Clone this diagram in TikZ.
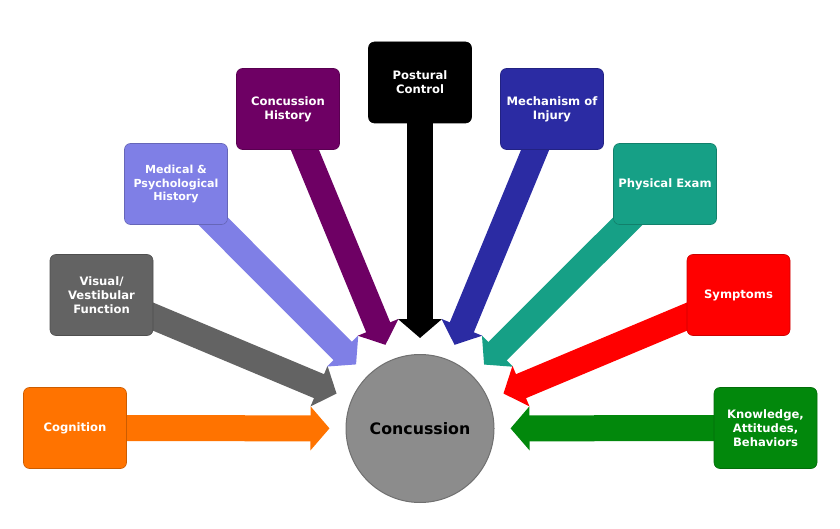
\documentclass[tikz,border=0pt]{standalone}
\usepackage{fontspec}
\setmainfont{DejaVu Sans}
\usetikzlibrary{arrows.meta,backgrounds}
\definecolor{cOrange}{HTML}{FF7300}
\definecolor{cGray}{HTML}{636363}
\definecolor{cLav}{HTML}{7F7FE6}
\definecolor{cPurple}{HTML}{6E0064}
\definecolor{cBlack}{HTML}{000000}
\definecolor{cBlue}{HTML}{2B2BA3}
\definecolor{cTeal}{HTML}{16A086}
\definecolor{cRed}{HTML}{FF0000}
\definecolor{cGreen}{HTML}{02880C}
\definecolor{cCirc}{HTML}{8C8C8C}
\tikzset{
  factor/.style={rectangle, rounded corners=6pt, minimum width=103pt, minimum height=81pt,
    inner sep=2pt, align=center, text=white, fill=#1, draw=#1!80!black, line width=0.6pt,
    font=\fontsize{11.6}{14}\selectfont\bfseries},
  centre/.style={circle, minimum size=148pt, inner sep=0pt, fill=cCirc, draw=cCirc!80!black,
    line width=1pt, font=\fontsize{15.8}{18}\selectfont\bfseries, text=black},
  feed/.style={draw=#1, line width=26pt, -{Triangle[width=43pt,length=19pt]}, shorten >=16pt}
}
\begin{document}
\begin{tikzpicture}[x=1pt,y=-1pt]
\useasboundingbox (0,0) rectangle (840,529);
\node[centre] (conc) at (420,428.5) {Concussion};
\node[factor=cOrange] (cog) at (75,428) {Cognition};
\node[factor=cGray] (vis) at (101.5,295) {Visual/\\Vestibular\\Function};
\node[factor=cLav, font=\fontsize{11.1}{13.6}\selectfont\bfseries] (med) at (176,184) {Medical \&\\Psychological\\History};
\node[factor=cPurple] (hist) at (288,109) {Concussion\\History};
\node[factor=cBlack, draw=black] (post) at (420,82.5) {Postural\\Control};
\node[factor=cBlue] (mech) at (552,109) {Mechanism of\\Injury};
\node[factor=cTeal] (phys) at (665,184) {Physical Exam};
\node[factor=cRed] (symp) at (738.5,295) {Symptoms};
\node[factor=cGreen] (know) at (765.5,428) {Knowledge,\\Attitudes,\\Behaviors};
\begin{pgfonlayer}{background}
\draw[feed=cOrange] (cog.center) -- (conc);
\draw[feed=cGray] (vis.center) -- (conc);
\draw[feed=cLav] (med.center) -- (conc);
\draw[feed=cPurple] (hist.center) -- (conc);
\draw[feed=cBlack] (post.center) -- (conc);
\draw[feed=cBlue] (mech.center) -- (conc);
\draw[feed=cTeal] (phys.center) -- (conc);
\draw[feed=cRed] (symp.center) -- (conc);
\draw[feed=cGreen] (know.center) -- (conc);
\end{pgfonlayer}
\end{tikzpicture}
\end{document}
